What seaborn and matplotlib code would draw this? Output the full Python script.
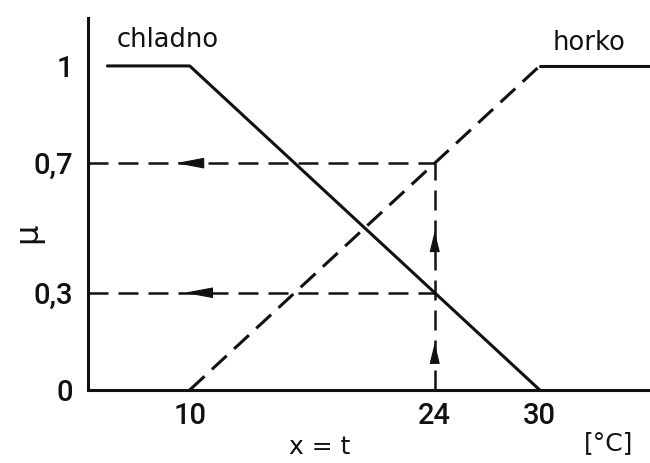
import matplotlib
matplotlib.use("Agg")
import matplotlib.pyplot as plt
import seaborn as sns
import pandas as pd

# Membership functions of the two fuzzy sets (temperature in °C)
temp_cold = [5.3, 10, 30]
mu_cold = [1, 1, 0]
temp_hot_rise = [10, 30]
mu_hot_rise = [0, 1]
temp_hot_flat = [30, 36.3]
mu_hot_flat = [1, 1]

# Reading of the crisp input x = 24 °C
x_reading = 24
mu_hot_at_x = 0.7
mu_cold_at_x = 0.3

x_ticks = [10, 24, 30]
x_tick_labels = ["10", "24", "30"]
y_ticks = [0, 0.3, 0.7, 1]
y_tick_labels = ["0", "0,3", "0,7", "1"]

sns.set_style("white")
plt.rcParams["font.family"] = ["DejaVu Sans"]
narrow = ["Roboto", "DejaVu Sans"]

fig = plt.figure(figsize=(6.5, 4.63), dpi=100)
ax = fig.add_axes([0.1354, 0.1577, 0.8646, 0.8035])

ink = "#111111"
lw = 2.2
lw_guide = 1.8
dash_main = (0, (6.6, 3.3))
dash_guide = (0, (8.0, 4.0))

cold = pd.DataFrame({"t": temp_cold, "mu": mu_cold})
hot_rise = pd.DataFrame({"t": temp_hot_rise, "mu": mu_hot_rise})
hot_flat = pd.DataFrame({"t": temp_hot_flat, "mu": mu_hot_flat})

sns.lineplot(data=cold, x="t", y="mu", ax=ax, color=ink, lw=lw,
             estimator=None, sort=False)
sns.lineplot(data=hot_rise, x="t", y="mu", ax=ax, color=ink, lw=lw,
             estimator=None, sort=False, linestyle=dash_main)
sns.lineplot(data=hot_flat, x="t", y="mu", ax=ax, color=ink, lw=lw,
             estimator=None, sort=False)

x_lo, x_hi = 4.19, 36.3
y_hi = 1.148

# Projection lines from x = 24 to the membership axis
for level in (mu_hot_at_x, mu_cold_at_x):
    guide = pd.DataFrame({"t": [x_lo, x_reading], "mu": [level, level]})
    sns.lineplot(data=guide, x="t", y="mu", ax=ax, color=ink, lw=lw_guide,
                 estimator=None, sort=False, linestyle=dash_guide)
vert = pd.DataFrame({"t": [x_reading, x_reading], "mu": [0, mu_hot_at_x]})
sns.lineplot(data=vert, x="t", y="mu", ax=ax, color=ink, lw=lw_guide,
             estimator=None, sort=False, linestyle=dash_guide)

# Arrow heads showing the direction of reading
head = dict(arrowstyle="-|>,head_length=1.8,head_width=0.34",
            color=ink, lw=0.8, shrinkA=0, shrinkB=0, mutation_scale=10)
for tip, level in ((9.2, mu_hot_at_x), (9.7, mu_cold_at_x)):
    ax.annotate("", xy=(tip, level), xytext=(tip + 1.45, level),
                arrowprops=head)
head_v = dict(arrowstyle="-|>,head_length=1.3,head_width=0.32",
              color=ink, lw=0.8, shrinkA=0, shrinkB=0, mutation_scale=10)
for tip in (0.49, 0.145):
    ax.annotate("", xy=(x_reading, tip), xytext=(x_reading, tip - 0.05),
                arrowprops=head_v)

ax.set_xlim(x_lo, x_hi)
ax.set_ylim(0, y_hi)
ax.set_xticks(x_ticks)
ax.set_xticklabels(x_tick_labels, family=narrow, fontsize=21,
                   fontweight="medium")
ax.set_yticks(y_ticks)
ax.set_yticklabels(y_tick_labels, family=narrow, fontsize=21,
                   fontweight="medium")
ax.tick_params(axis="both", direction="in", length=6, width=1.5, colors=ink)
ax.tick_params(axis="x", pad=9)
ax.tick_params(axis="y", pad=11)
ax.set_xlabel("")
ax.set_ylabel("")

for side in ("top", "right"):
    ax.spines[side].set_visible(False)
for side in ("left", "bottom"):
    ax.spines[side].set_color(ink)
    ax.spines[side].set_linewidth(lw)

ax.text(8.75, 1.08, "chladno", ha="center", va="center", fontsize=18.5,
        color=ink)
ax.text(32.8, 1.07, "horko", ha="center", va="center", fontsize=18.5,
        color=ink)

fig.text(28 / 650, 1 - 233 / 463, "μ", rotation=90, ha="center",
         va="center", fontsize=23, color=ink)
fig.text(320 / 650, 1 - 447 / 463, "x = t", ha="center", va="center",
         fontsize=18, color=ink)
fig.text(609 / 650, 1 - 443 / 463, "[°C]", ha="center", va="center",
         fontsize=18, color=ink)

fig.savefig("out.png", dpi=100)
